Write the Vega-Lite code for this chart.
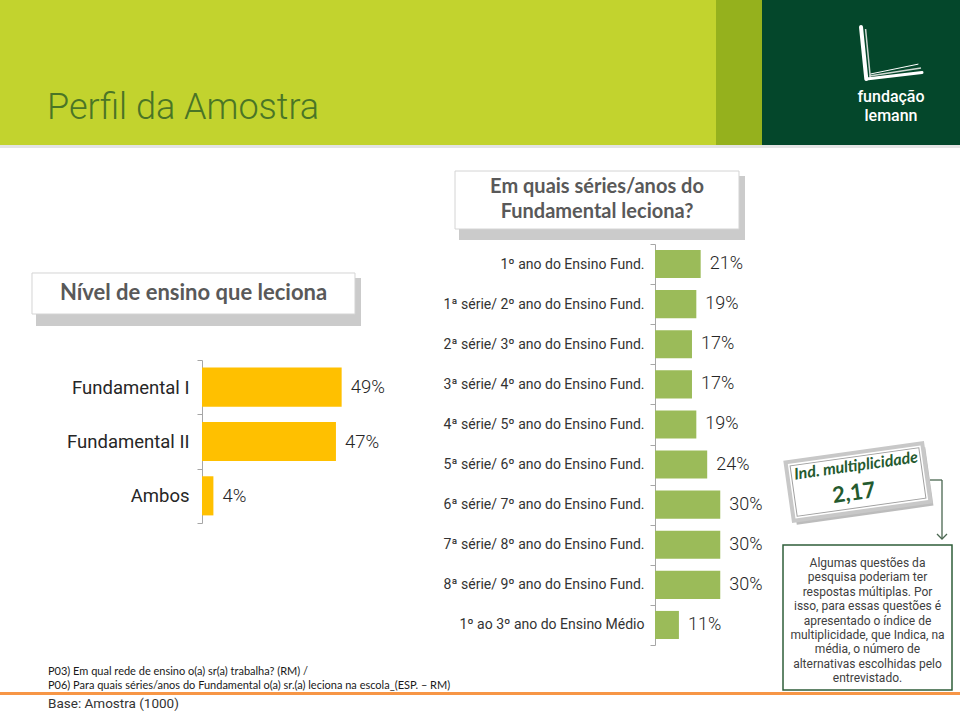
{
  "$schema": "https://vega.github.io/schema/vega-lite/v6.json",
  "width": 960,
  "height": 714,
  "padding": 0,
  "autosize": {"type": "none"},
  "background": "white",
  "config": {"view": {"stroke": null}, "font": "Roboto"},
  "datasets": {
    "one": [{"k": 1}],
    "nivel": [
      {"nivel": "Fundamental I", "pct": 0.49},
      {"nivel": "Fundamental II", "pct": 0.47},
      {"nivel": "Ambos", "pct": 0.04}
    ],
    "series": [
      {"serie": "1º ano do Ensino Fund.", "pct": 0.21},
      {"serie": "1ª série/ 2º ano do Ensino Fund.", "pct": 0.19},
      {"serie": "2ª série/ 3º ano do Ensino Fund.", "pct": 0.17},
      {"serie": "3ª série/ 4º ano do Ensino Fund.", "pct": 0.17},
      {"serie": "4ª série/ 5º ano do Ensino Fund.", "pct": 0.19},
      {"serie": "5ª série/ 6º ano do Ensino Fund.", "pct": 0.24},
      {"serie": "6ª série/ 7º ano do Ensino Fund.", "pct": 0.30},
      {"serie": "7ª série/ 8º ano do Ensino Fund.", "pct": 0.30},
      {"serie": "8ª série/ 9º ano do Ensino Fund.", "pct": 0.30},
      {"serie": "1º ao 3º ano do Ensino Médio", "pct": 0.11}
    ]
  },
  "data": {"name": "one"},
  "resolve": {"scale": {"x": "independent", "y": "independent"}, "axis": {"x": "independent", "y": "independent"}},
  "layer": [
    {"mark": {"type": "rect", "color": "#C2D32E"},
      "encoding": {"x": {"datum": 0, "type": "quantitative", "scale": {"domain": [0, 1], "nice": false, "zero": false}, "axis": null}, "x2": {"datum": 0.74583},
        "y": {"datum": 0, "type": "quantitative", "scale": {"domain": [0, 1], "nice": false, "zero": false, "reverse": true}, "axis": null}, "y2": {"datum": 0.20308}}},
    {"mark": {"type": "rect", "color": "#95B11D"},
      "encoding": {"x": {"datum": 0.74583, "type": "quantitative", "scale": {"domain": [0, 1], "nice": false, "zero": false}, "axis": null}, "x2": {"datum": 0.79375},
        "y": {"datum": 0, "type": "quantitative", "scale": {"domain": [0, 1], "nice": false, "zero": false, "reverse": true}, "axis": null}, "y2": {"datum": 0.20308}}},
    {"mark": {"type": "rect", "color": "#04472B"},
      "encoding": {"x": {"datum": 0.79375, "type": "quantitative", "scale": {"domain": [0, 1], "nice": false, "zero": false}, "axis": null}, "x2": {"datum": 1},
        "y": {"datum": 0, "type": "quantitative", "scale": {"domain": [0, 1], "nice": false, "zero": false, "reverse": true}, "axis": null}, "y2": {"datum": 0.20308}}},
    {"mark": {"type": "rect", "color": "#E4E4E4"},
      "encoding": {"x": {"datum": 0, "type": "quantitative", "scale": {"domain": [0, 1], "nice": false, "zero": false}, "axis": null}, "x2": {"datum": 1},
        "y": {"datum": 0.20308, "type": "quantitative", "scale": {"domain": [0, 1], "nice": false, "zero": false, "reverse": true}, "axis": null}, "y2": {"datum": 0.20728}}},
    {"mark": {"type": "text", "text": "Perfil da Amostra", "font": "Roboto", "fontWeight": 300, "fontSize": 36, "color": "#4A7526", "align": "left", "baseline": "middle"},
      "encoding": {"x": {"datum": 0.04896, "type": "quantitative", "scale": {"domain": [0, 1], "nice": false, "zero": false}, "axis": null},
        "y": {"datum": 0.15126, "type": "quantitative", "scale": {"domain": [0, 1], "nice": false, "zero": false, "reverse": true}, "axis": null}}},
    {"mark": {"type": "rule", "color": "white", "strokeWidth": 4, "strokeCap": "round"},
      "encoding": {"x": {"datum": 0.89688, "type": "quantitative", "scale": {"domain": [0, 1], "nice": false, "zero": false}, "axis": null}, "x2": {"datum": 0.9024},
        "y": {"datum": 0.03782, "type": "quantitative", "scale": {"domain": [0, 1], "nice": false, "zero": false, "reverse": true}, "axis": null}, "y2": {"datum": 0.11064}}},
    {"mark": {"type": "rule", "color": "#cfd8d2", "strokeWidth": 1.5},
      "encoding": {"x": {"datum": 0.90163, "type": "quantitative", "scale": {"domain": [0, 1], "nice": false, "zero": false}, "axis": null}, "x2": {"datum": 0.90652},
        "y": {"datum": 0.04062, "type": "quantitative", "scale": {"domain": [0, 1], "nice": false, "zero": false, "reverse": true}, "axis": null}, "y2": {"datum": 0.1077}}},
    {"mark": {"type": "rule", "color": "white", "strokeWidth": 3, "strokeCap": "round"},
      "encoding": {"x": {"datum": 0.9024, "type": "quantitative", "scale": {"domain": [0, 1], "nice": false, "zero": false}, "axis": null}, "x2": {"datum": 0.96042},
        "y": {"datum": 0.11064, "type": "quantitative", "scale": {"domain": [0, 1], "nice": false, "zero": false, "reverse": true}, "axis": null}, "y2": {"datum": 0.10154}}},
    {"mark": {"type": "rule", "color": "#cfd8d2", "strokeWidth": 1.5},
      "encoding": {"x": {"datum": 0.90552, "type": "quantitative", "scale": {"domain": [0, 1], "nice": false, "zero": false}, "axis": null}, "x2": {"datum": 0.95938},
        "y": {"datum": 0.10658, "type": "quantitative", "scale": {"domain": [0, 1], "nice": false, "zero": false, "reverse": true}, "axis": null}, "y2": {"datum": 0.0951}}},
    {"mark": {"type": "rule", "color": "white", "strokeWidth": 1},
      "encoding": {"x": {"datum": 0.90677, "type": "quantitative", "scale": {"domain": [0, 1], "nice": false, "zero": false}, "axis": null}, "x2": {"datum": 0.95667},
        "y": {"datum": 0.10364, "type": "quantitative", "scale": {"domain": [0, 1], "nice": false, "zero": false, "reverse": true}, "axis": null}, "y2": {"datum": 0.08978}}},
    {"mark": {"type": "text", "text": "fundação", "font": "Roboto", "fontWeight": 500, "fontSize": 16, "color": "white", "align": "center", "baseline": "middle"},
      "encoding": {"x": {"datum": 0.92813, "type": "quantitative", "scale": {"domain": [0, 1], "nice": false, "zero": false}, "axis": null},
        "y": {"datum": 0.13585, "type": "quantitative", "scale": {"domain": [0, 1], "nice": false, "zero": false, "reverse": true}, "axis": null}}},
    {"mark": {"type": "text", "text": "lemann", "font": "Roboto", "fontWeight": 500, "fontSize": 16, "color": "white", "align": "center", "baseline": "middle"},
      "encoding": {"x": {"datum": 0.92813, "type": "quantitative", "scale": {"domain": [0, 1], "nice": false, "zero": false}, "axis": null},
        "y": {"datum": 0.16246, "type": "quantitative", "scale": {"domain": [0, 1], "nice": false, "zero": false, "reverse": true}, "axis": null}}},

    {"mark": {"type": "rect", "color": "#8c8c8c", "opacity": 0.45},
      "encoding": {"x": {"datum": 0.47813, "type": "quantitative", "scale": {"domain": [0, 1], "nice": false, "zero": false}, "axis": null}, "x2": {"datum": 0.77604},
        "y": {"datum": 0.2465, "type": "quantitative", "scale": {"domain": [0, 1], "nice": false, "zero": false, "reverse": true}, "axis": null}, "y2": {"datum": 0.33613}}},
    {"mark": {"type": "rect", "fill": "white", "stroke": "#d4d4d4", "strokeWidth": 1},
      "encoding": {"x": {"datum": 0.47396, "type": "quantitative", "scale": {"domain": [0, 1], "nice": false, "zero": false}, "axis": null}, "x2": {"datum": 0.76979},
        "y": {"datum": 0.2395, "type": "quantitative", "scale": {"domain": [0, 1], "nice": false, "zero": false, "reverse": true}, "axis": null}, "y2": {"datum": 0.32073}}},
    {"mark": {"type": "text", "text": ["Em quais séries/anos do", "Fundamental  leciona?"], "font": "Lato", "fontWeight": "bold", "fontSize": 20, "color": "#595959", "align": "center", "baseline": "middle", "lineHeight": 25},
      "encoding": {"x": {"datum": 0.62188, "type": "quantitative", "scale": {"domain": [0, 1], "nice": false, "zero": false}, "axis": null},
        "y": {"datum": 0.2619, "type": "quantitative", "scale": {"domain": [0, 1], "nice": false, "zero": false, "reverse": true}, "axis": null}}},

    {"mark": {"type": "rect", "color": "#8c8c8c", "opacity": 0.45},
      "encoding": {"x": {"datum": 0.0375, "type": "quantitative", "scale": {"domain": [0, 1], "nice": false, "zero": false}, "axis": null}, "x2": {"datum": 0.37604},
        "y": {"datum": 0.38936, "type": "quantitative", "scale": {"domain": [0, 1], "nice": false, "zero": false, "reverse": true}, "axis": null}, "y2": {"datum": 0.45658}}},
    {"mark": {"type": "rect", "fill": "white", "stroke": "#d4d4d4", "strokeWidth": 1},
      "encoding": {"x": {"datum": 0.03333, "type": "quantitative", "scale": {"domain": [0, 1], "nice": false, "zero": false}, "axis": null}, "x2": {"datum": 0.36979},
        "y": {"datum": 0.38235, "type": "quantitative", "scale": {"domain": [0, 1], "nice": false, "zero": false, "reverse": true}, "axis": null}, "y2": {"datum": 0.43978}}},
    {"mark": {"type": "text", "text": "Nível de ensino que leciona", "font": "Lato", "fontWeight": "bold", "fontSize": 22, "color": "#595959", "align": "center", "baseline": "middle"},
      "encoding": {"x": {"datum": 0.20156, "type": "quantitative", "scale": {"domain": [0, 1], "nice": false, "zero": false}, "axis": null},
        "y": {"datum": 0.41106, "type": "quantitative", "scale": {"domain": [0, 1], "nice": false, "zero": false, "reverse": true}, "axis": null}}},

    {"data": {"name": "nivel"},
      "mark": {"type": "bar", "color": "#FFC000", "height": {"band": 0.72}},
      "encoding": {
        "x": {"field": "pct", "type": "quantitative", "scale": {"domain": [0, 1], "range": [202, 487], "nice": false}, "axis": null},
        "y": {"field": "nivel", "type": "nominal", "sort": null,
          "scale": {"type": "band", "range": [360, 523], "paddingInner": 0, "paddingOuter": 0},
          "axis": {"title": null, "orient": "left", "offset": -202, "domainColor": "#A6A6A6", "tickColor": "#A6A6A6", "tickBand": "extent", "tickSize": 5,
            "labelFont": "Roboto", "labelFontSize": 18.5, "labelColor": "#262626", "labelPadding": 8, "labelLimit": 400}}
      }},
    {"data": {"name": "nivel"},
      "mark": {"type": "text", "align": "left", "baseline": "middle", "dx": 9, "font": "Roboto", "fontWeight": 300, "fontSize": 18.5, "color": "#262626"},
      "encoding": {
        "x": {"field": "pct", "type": "quantitative", "scale": {"domain": [0, 1], "range": [202, 487], "nice": false}, "axis": null},
        "y": {"field": "nivel", "type": "nominal", "sort": null, "scale": {"type": "band", "range": [360, 523], "paddingInner": 0, "paddingOuter": 0}, "axis": null},
        "text": {"field": "pct", "type": "quantitative", "format": ".0%"}
      }},

    {"data": {"name": "series"},
      "mark": {"type": "bar", "color": "#9BBB59", "height": {"band": 0.7}},
      "encoding": {
        "x": {"field": "pct", "type": "quantitative", "scale": {"domain": [0, 1], "range": [655, 872.5], "nice": false}, "axis": null},
        "y": {"field": "serie", "type": "nominal", "sort": null,
          "scale": {"type": "band", "range": [244, 645], "paddingInner": 0, "paddingOuter": 0},
          "axis": {"title": null, "orient": "left", "offset": -655, "domainColor": "#A6A6A6", "tickColor": "#A6A6A6", "tickBand": "extent", "tickSize": 5,
            "labelFont": "Roboto", "labelFontSize": 14, "labelColor": "#333333", "labelPadding": 6, "labelLimit": 400}}
      }},
    {"data": {"name": "series"},
      "mark": {"type": "text", "align": "left", "baseline": "middle", "dx": 9, "font": "Roboto", "fontWeight": 300, "fontSize": 18, "color": "#262626"},
      "encoding": {
        "x": {"field": "pct", "type": "quantitative", "scale": {"domain": [0, 1], "range": [655, 872.5], "nice": false}, "axis": null},
        "y": {"field": "serie", "type": "nominal", "sort": null, "scale": {"type": "band", "range": [244, 645], "paddingInner": 0, "paddingOuter": 0}, "axis": null},
        "text": {"field": "pct", "type": "quantitative", "format": ".0%"}
      }},

    {"mark": {"type": "text", "text": ["P03) Em qual rede de ensino o(a) sr(a) trabalha? (RM) /", "P06) Para quais séries/anos do Fundamental o(a) sr.(a) leciona na escola_(ESP. – RM)"], "font": "Lato", "fontSize": 11, "color": "#1a1a1a", "align": "left", "baseline": "middle", "lineHeight": 14},
      "encoding": {"x": {"datum": 0.05, "type": "quantitative", "scale": {"domain": [0, 1], "nice": false, "zero": false}, "axis": null},
        "y": {"datum": 0.94118, "type": "quantitative", "scale": {"domain": [0, 1], "nice": false, "zero": false, "reverse": true}, "axis": null}}},

    {"mark": {"type": "point", "shape": "M-1,-0.4275H1V0.4275H-1Z", "size": 19044, "angle": -8, "filled": true, "color": "#7a7a7a", "opacity": 0.5, "strokeWidth": 0},
      "encoding": {"x": {"datum": 0.89688, "type": "quantitative", "scale": {"domain": [0, 1], "nice": false, "zero": false}, "axis": null},
        "y": {"datum": 0.68067, "type": "quantitative", "scale": {"domain": [0, 1], "nice": false, "zero": false, "reverse": true}, "axis": null}}},
    {"mark": {"type": "point", "shape": "M-1,-0.4275H1V0.4275H-1Z", "size": 19044, "angle": -8, "filled": true, "fill": "white", "stroke": "#c8c8c8", "strokeWidth": 4, "opacity": 1},
      "encoding": {"x": {"datum": 0.89375, "type": "quantitative", "scale": {"domain": [0, 1], "nice": false, "zero": false}, "axis": null},
        "y": {"datum": 0.67507, "type": "quantitative", "scale": {"domain": [0, 1], "nice": false, "zero": false, "reverse": true}, "axis": null}}},
    {"mark": {"type": "point", "shape": "M-1,-0.392H1V0.392H-1Z", "size": 16900, "angle": -8, "filled": false, "stroke": "#a0a0a0", "strokeWidth": 1, "opacity": 1},
      "encoding": {"x": {"datum": 0.89375, "type": "quantitative", "scale": {"domain": [0, 1], "nice": false, "zero": false}, "axis": null},
        "y": {"datum": 0.67507, "type": "quantitative", "scale": {"domain": [0, 1], "nice": false, "zero": false, "reverse": true}, "axis": null}}},
    {"mark": {"type": "text", "text": "Ind. multiplicidade", "font": "Lato", "fontWeight": "bold", "fontStyle": "italic", "fontSize": 16, "color": "#245A2E", "align": "center", "baseline": "middle", "angle": -8},
      "encoding": {"x": {"datum": 0.89167, "type": "quantitative", "scale": {"domain": [0, 1], "nice": false, "zero": false}, "axis": null},
        "y": {"datum": 0.65266, "type": "quantitative", "scale": {"domain": [0, 1], "nice": false, "zero": false, "reverse": true}, "axis": null}}},
    {"mark": {"type": "text", "text": "2,17", "font": "Lato", "fontWeight": "bold", "fontSize": 22, "color": "#245A2E", "align": "center", "baseline": "middle", "angle": -8},
      "encoding": {"x": {"datum": 0.88958, "type": "quantitative", "scale": {"domain": [0, 1], "nice": false, "zero": false}, "axis": null},
        "y": {"datum": 0.69048, "type": "quantitative", "scale": {"domain": [0, 1], "nice": false, "zero": false, "reverse": true}, "axis": null}}},
    {"mark": {"type": "rule", "color": "#4a6650", "strokeWidth": 1.3},
      "encoding": {"x": {"datum": 0.96875, "type": "quantitative", "scale": {"domain": [0, 1], "nice": false, "zero": false}, "axis": null}, "x2": {"datum": 0.98125},
        "y": {"datum": 0.67227, "type": "quantitative", "scale": {"domain": [0, 1], "nice": false, "zero": false, "reverse": true}, "axis": null}}},
    {"mark": {"type": "rule", "color": "#4a6650", "strokeWidth": 1.3},
      "encoding": {"x": {"datum": 0.98125, "type": "quantitative", "scale": {"domain": [0, 1], "nice": false, "zero": false}, "axis": null},
        "y": {"datum": 0.67227, "type": "quantitative", "scale": {"domain": [0, 1], "nice": false, "zero": false, "reverse": true}, "axis": null}, "y2": {"datum": 0.7535}}},
    {"mark": {"type": "point", "shape": "M-1,-1L0,0L1,-1", "size": 100, "filled": false, "stroke": "#4a6650", "strokeWidth": 1.3, "opacity": 1},
      "encoding": {"x": {"datum": 0.98125, "type": "quantitative", "scale": {"domain": [0, 1], "nice": false, "zero": false}, "axis": null},
        "y": {"datum": 0.7549, "type": "quantitative", "scale": {"domain": [0, 1], "nice": false, "zero": false, "reverse": true}, "axis": null}}},
    {"mark": {"type": "rect", "fill": "white", "stroke": "#2F5E3A", "strokeWidth": 1.5},
      "encoding": {"x": {"datum": 0.81563, "type": "quantitative", "scale": {"domain": [0, 1], "nice": false, "zero": false}, "axis": null}, "x2": {"datum": 0.99167},
        "y": {"datum": 0.76331, "type": "quantitative", "scale": {"domain": [0, 1], "nice": false, "zero": false, "reverse": true}, "axis": null}, "y2": {"datum": 0.96639}}},
    {"mark": {"type": "text", "text": ["Algumas questões da", "pesquisa poderiam ter", "respostas múltiplas. Por", "isso, para essas questões é", "apresentado o índice de", "multiplicidade, que Indica, na", "média, o número de", "alternativas escolhidas pelo", "entrevistado."], "font": "Roboto", "fontSize": 12, "color": "#404040", "align": "center", "baseline": "middle", "lineHeight": 14.4},
      "encoding": {"x": {"datum": 0.90365, "type": "quantitative", "scale": {"domain": [0, 1], "nice": false, "zero": false}, "axis": null},
        "y": {"datum": 0.78852, "type": "quantitative", "scale": {"domain": [0, 1], "nice": false, "zero": false, "reverse": true}, "axis": null}}},

    {"mark": {"type": "rect", "color": "#F79646"},
      "encoding": {"x": {"datum": 0, "type": "quantitative", "scale": {"domain": [0, 1], "nice": false, "zero": false}, "axis": null}, "x2": {"datum": 1},
        "y": {"datum": 0.96919, "type": "quantitative", "scale": {"domain": [0, 1], "nice": false, "zero": false, "reverse": true}, "axis": null}, "y2": {"datum": 0.97339}}},
    {"mark": {"type": "text", "text": "Base: Amostra (1000)", "font": "Roboto", "fontSize": 13.5, "color": "#333333", "align": "left", "baseline": "middle"},
      "encoding": {"x": {"datum": 0.05, "type": "quantitative", "scale": {"domain": [0, 1], "nice": false, "zero": false}, "axis": null},
        "y": {"datum": 0.98669, "type": "quantitative", "scale": {"domain": [0, 1], "nice": false, "zero": false, "reverse": true}, "axis": null}}}
  ]
}
